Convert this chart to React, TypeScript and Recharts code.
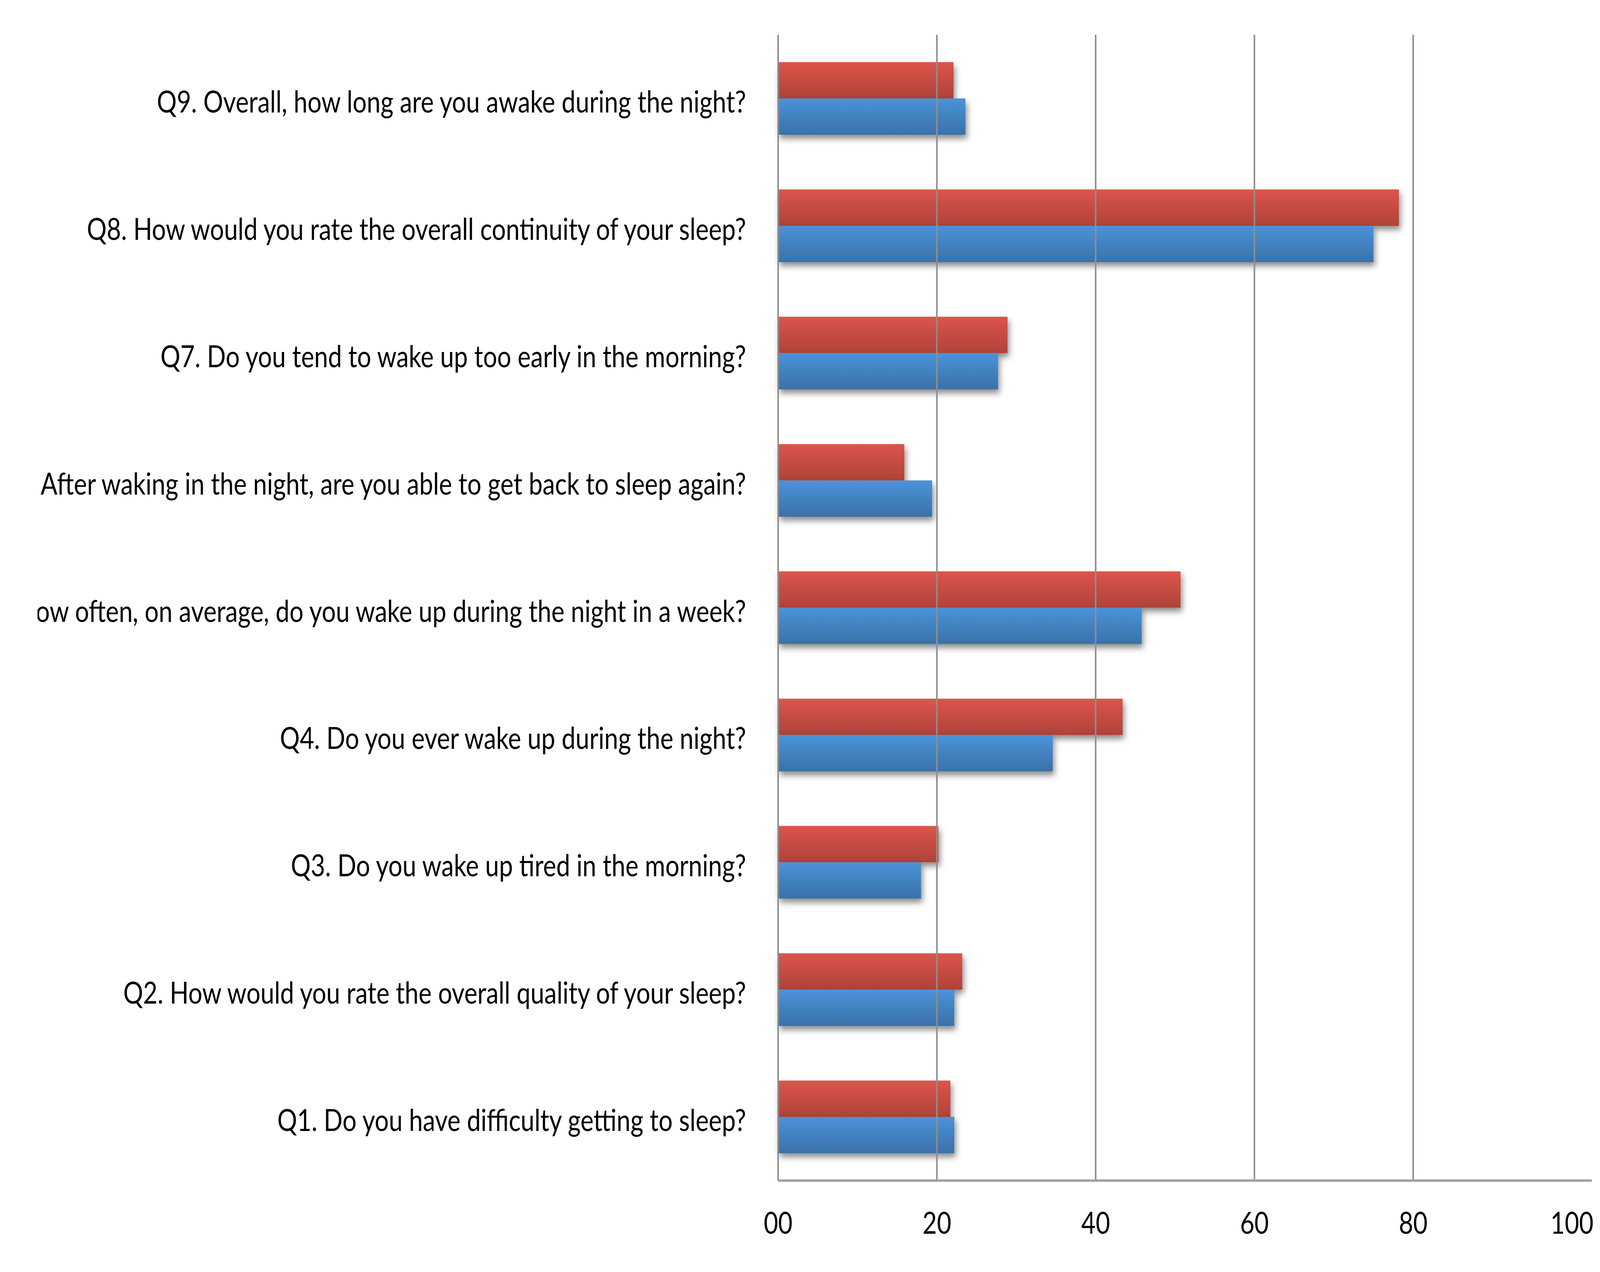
import React from "react";
import { BarChart, Bar, XAxis, YAxis, ReferenceLine } from "recharts";

const categories = [
  "Q9. Overall, how long are you awake during the night?",
  "Q8. How would you rate the overall continuity of your sleep?",
  "Q7. Do you tend to wake up too early in the morning?",
  "Q6. After waking in the night, are you able to get back to sleep again?",
  "Q5. How often, on average, do you wake up during the night in a week?",
  "Q4. Do you ever wake up during the night?",
  "Q3. Do you wake up tired in the morning?",
  "Q2. How would you rate the overall quality of your sleep?",
  "Q1. Do you have difficulty getting to sleep?",
];
const redValues = [22.1, 78.2, 28.9, 15.9, 50.7, 43.4, 20.2, 23.2, 21.7];
const blueValues = [23.6, 75.0, 27.7, 19.4, 45.8, 34.6, 18.0, 22.2, 22.2];
const xTicks = [0, 20, 40, 60, 80, 100];
const gridValues = [0, 20, 40, 60, 80];

const data = categories.map((q, i) => ({ q, red: redValues[i], blue: blueValues[i] }));

// the page is 4096 px wide; the reference is 4961 px wide -> horizontal factor
const K = 4096 / 4961;
const FONT = "Lato, 'Open Sans', sans-serif";
const FS = 77;

const YTick = (props: any) => {
  const { x, y, payload } = props;
  return (
    <g transform={`translate(${x - 82},${y}) scale(${K},1)`}>
      <text x={0} y={0} dy={36} textAnchor="end" fontFamily={FONT} fontSize={FS} fill="#000">
        {payload.value}
      </text>
    </g>
  );
};

const XTick = (props: any) => {
  const { x, y, payload } = props;
  const label = payload.value === 0 ? "00" : String(payload.value);
  return (
    <g transform={`translate(${x},${y}) scale(${K},1)`}>
      <text x={0} y={0} dy={136} textAnchor="middle" fontFamily={FONT} fontSize={FS} fill="#000">
        {label}
      </text>
    </g>
  );
};

export default function App() {
  return (
    <div style={{ position: "absolute", left: 96, top: 0, background: "#fff" }}>
      <BarChart
        width={4000}
        height={3256}
        data={data}
        layout="vertical"
        margin={{ top: 89, right: 21, bottom: 0, left: 0 }}
        barGap={0}
        barSize={93}
      >
        <defs>
          <linearGradient id="redGrad" x1="0" y1="0" x2="0" y2="1">
            <stop offset="0%" stopColor="#DC554A" />
            <stop offset="100%" stopColor="#AF4239" />
          </linearGradient>
          <linearGradient id="blueGrad" x1="0" y1="0" x2="0" y2="1">
            <stop offset="0%" stopColor="#4A93D8" />
            <stop offset="100%" stopColor="#3A71A8" />
          </linearGradient>
          <filter id="shadow" x="-5%" y="-20%" width="115%" height="160%">
            <feDropShadow dx="4" dy="10" stdDeviation="8" floodColor="#000" floodOpacity="0.45" />
          </filter>
        </defs>
        {gridValues.map((v) => (
          <ReferenceLine key={v} x={v} stroke="#8e8e8e" strokeWidth={4} />
        ))}
        <XAxis
          type="number"
          domain={[0, 102.5]}
          ticks={xTicks}
          tickLine={false}
          tickSize={0}
          tickMargin={0}
          height={234}
          axisLine={{ stroke: "#a0a0a0", strokeWidth: 6 }}
          tick={<XTick />}
          interval={0}
        />
        <YAxis
          type="category"
          dataKey="q"
          width={1896}
          tickLine={false}
          tickSize={0}
          tickMargin={0}
          axisLine={false}
          tick={<YTick />}
          interval={0}
        />
        <Bar dataKey="red" name="Series 1" fill="url(#redGrad)" filter="url(#shadow)" isAnimationActive={false} />
        <Bar dataKey="blue" name="Series 2" fill="url(#blueGrad)" filter="url(#shadow)" isAnimationActive={false} />
      </BarChart>
    </div>
  );
}
